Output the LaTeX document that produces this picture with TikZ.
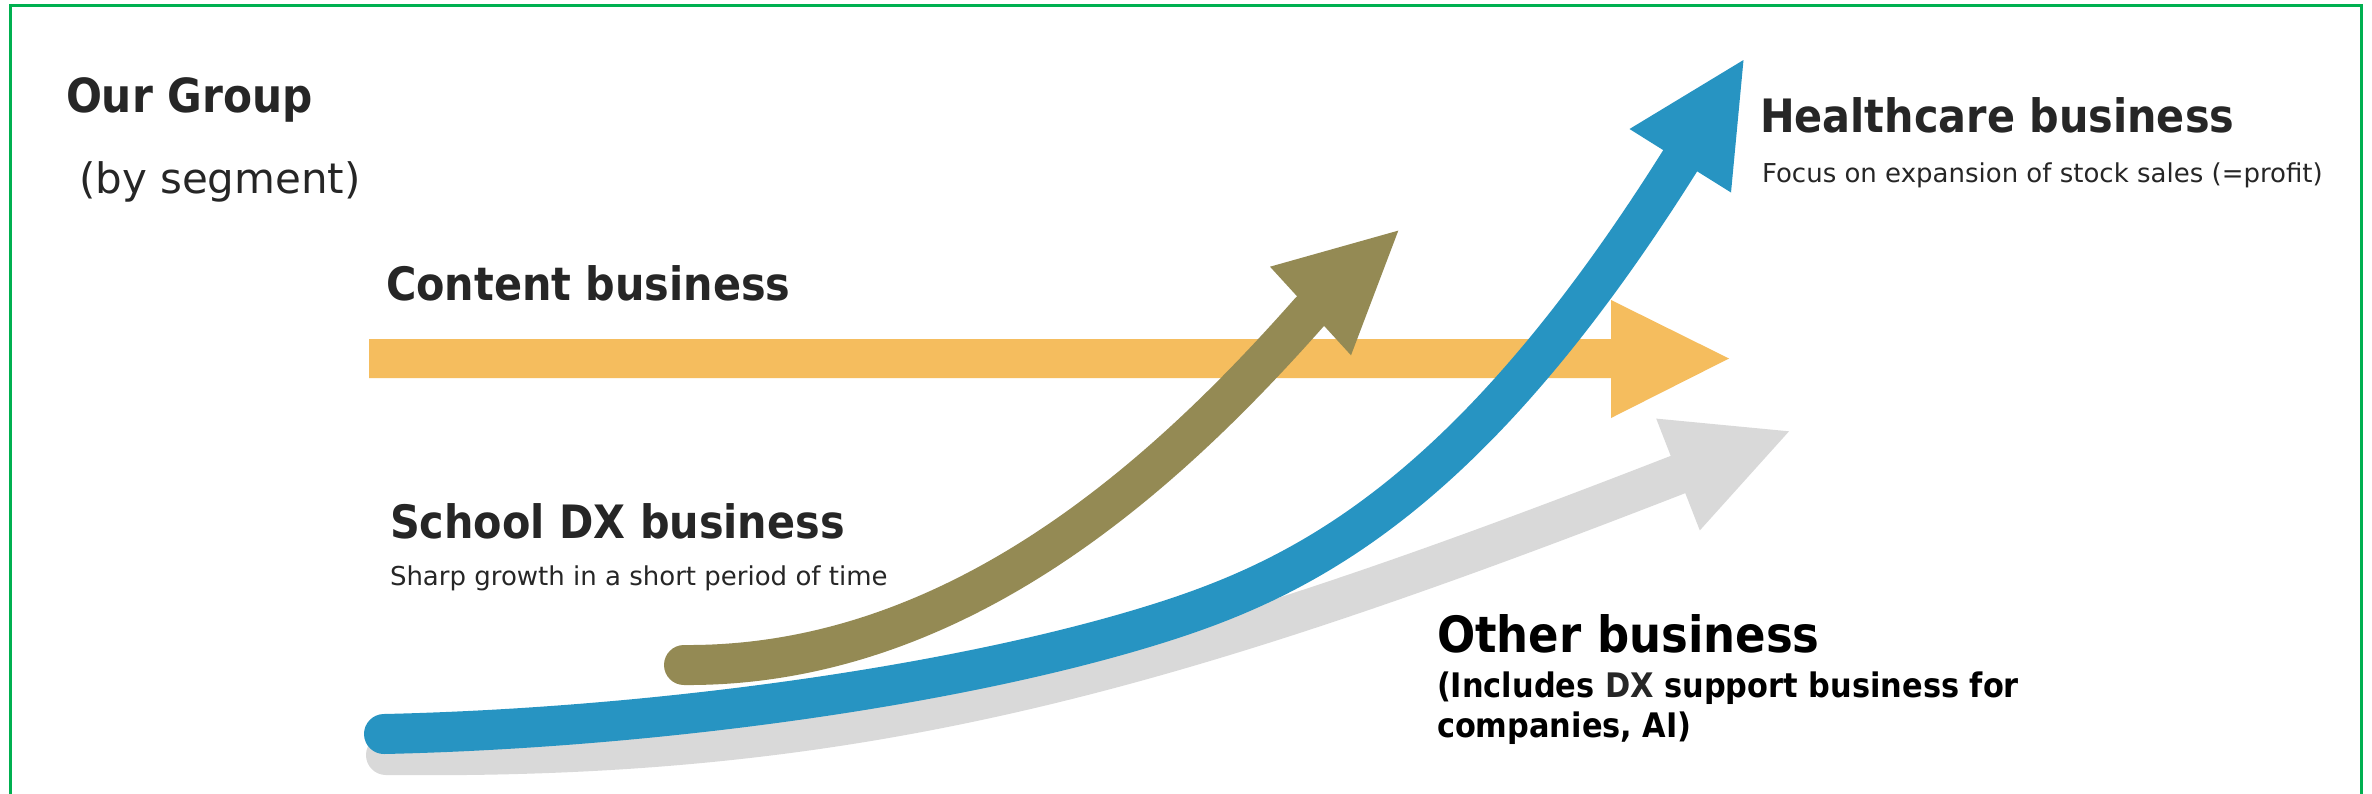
\documentclass[tikz,border=0pt]{standalone}
\usepackage{fontspec}
\setmainfont{DejaVu Sans}
\newfontfamily\hfont{DejaVu Sans}[FakeStretch=0.9]
\definecolor{txt}{HTML}{262626}
\definecolor{frameg}{HTML}{00B050}
\definecolor{orangec}{HTML}{F5BD5E}
\definecolor{bluec}{HTML}{2794C2}
\definecolor{olivec}{HTML}{948A54}
\definecolor{grayc}{HTML}{D9D9D9}
\tikzset{
  lbl/.style={anchor=base west, inner sep=0pt, outer sep=0pt},
  heading/.style={lbl, text=txt, font=\hfont\bfseries\fontsize{46}{55}\selectfont},
  small/.style={lbl, text=txt, font=\fontsize{26}{31}\selectfont},
  shaft/.style={line width=40pt, line cap=round},
}
\begin{document}
\begin{tikzpicture}[x=1pt,y=-1pt]
\useasboundingbox (0,0) rectangle (2372,793);
\fill[white] (0,0) rectangle (2372,793);
\draw[frameg, line width=3pt] (10,5) rectangle (2361,830);

% texts
\node[heading, font=\hfont\bfseries\fontsize{47}{56}\selectfont] (our) at (66,112) {Our Group};
\node[lbl, text=txt, font=\fontsize{42}{50}\selectfont] (seg) at (79,193) {(by segment)};
\node[heading] (content) at (386,300) {Content business};
\node[heading] (school) at (390,538) {School DX business};
\node[small] (sharp) at (390,585) {Sharp growth in a short period of time};
\node[heading] (health) at (1760,132) {Healthcare business};
\node[small] (focus) at (1762,182) {Focus on expansion of stock sales (=profit)};
\node[lbl, text=black, font=\hfont\bfseries\fontsize{50}{60}\selectfont] (other) at (1437,652) {Other business};
\node[lbl, text=black, font=\hfont\bfseries\fontsize{33.8}{40}\selectfont] (oth1) at (1437,697) {(Includes {\color{txt}DX} support business for};
\node[lbl, text=black, font=\hfont\bfseries\fontsize{33.8}{40}\selectfont] (oth2) at (1437,737) {companies, AI)};

% coordinates
\coordinate (o1) at (369,339);
\coordinate (o2) at (1611,339);
\coordinate (o3) at (1611,300);
\coordinate (otip) at (1729,358.5);
\coordinate (o4) at (1611,418);
\coordinate (o5) at (1611,378);
\coordinate (o6) at (369,378);

\coordinate (gs) at (386,755);
\coordinate (gm) at (1678,474.5);
\coordinate (gtip) at (1789,431.3);
\coordinate (gl) at (1656.2,418.6);
\coordinate (gr) at (1699.8,530.4);

\coordinate (bs) at (384,734);
\coordinate (bk) at (1150,626);
\coordinate (bm) at (1680,161);
\coordinate (btip) at (1743.5,60);
\coordinate (bl) at (1629.5,129);
\coordinate (br) at (1731,192.5);

\coordinate (vs) at (684,665);
\coordinate (vm) at (1310.5,311);
\coordinate (vtip) at (1398.3,230.6);
\coordinate (vl) at (1270,266.7);
\coordinate (vr) at (1351,355.3);

% orange content arrow
\fill[orangec] (o1) -- (o2) -- (o3) -- (otip) -- (o4) -- (o5) -- (o6) -- cycle;

% gray other arrow
\draw[grayc, shaft] (gs) .. controls (850,760) and (1150,680) .. (gm);
\fill[grayc] (gl) -- (gtip) -- (gr) -- cycle;

% blue healthcare arrow
\draw[bluec, shaft] (bs) .. controls (650,728) and (950,687.3) .. (bk)
  .. controls (1300,580) and (1467,500) .. (bm);
\fill[bluec] (bl) -- (btip) -- (br) -- cycle;

% olive school arrow
\draw[olivec, shaft] (vs) .. controls (960,667) and (1170,470) .. (vm);
\fill[olivec] (vl) -- (vtip) -- (vr) -- cycle;
\end{tikzpicture}
\end{document}
